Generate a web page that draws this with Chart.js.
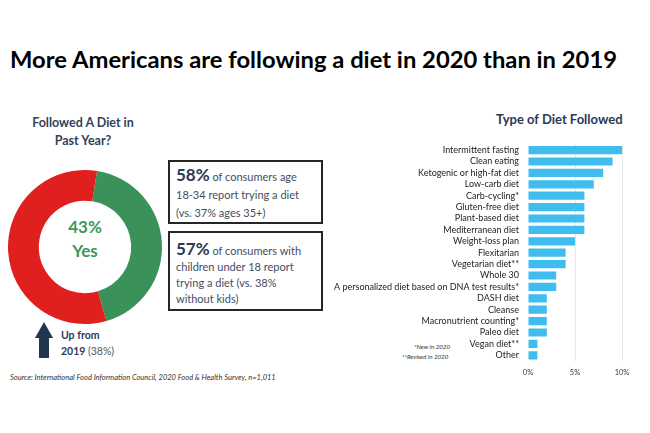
<!DOCTYPE html>
<html><head><meta charset="utf-8">
<script src="https://cdn.jsdelivr.net/npm/chart.js@4/dist/chart.umd.min.js"></script>
<style>
html,body{margin:0;padding:0;background:#fff;}
body{width:650px;height:433px;position:relative;overflow:hidden;font-family:Lato,"Open Sans",sans-serif;}
.abs{position:absolute;white-space:nowrap;}
#title{left:10px;top:46px;font-size:22px;font-weight:700;color:#000;transform-origin:0 0;}
#dTitle{left:2px;width:162px;top:114px;text-align:center;font-size:12.5px;font-weight:700;color:#33425c;line-height:18px;white-space:normal;}
#bTitle{left:496px;top:111px;font-size:13px;font-weight:700;color:#2b3a55;}
.box{position:absolute;box-sizing:border-box;left:168px;width:155px;border:2px solid #262626;padding-left:6px;color:#444d5e;font-size:11px;}
.box b{font-size:17px;line-height:1;color:#2b3a55;}
#box1{top:160px;height:64px;padding-top:4px;line-height:18px;}
#box2{top:231px;height:80px;padding-top:7px;line-height:16px;}
#pctYes{left:40px;width:90px;text-align:center;top:216px;font-size:17px;font-weight:700;color:#3a9a5b;}
#lblYes{left:40px;width:90px;text-align:center;top:240px;font-size:17px;font-weight:700;color:#3a9a5b;}
#up1{left:61px;top:329px;font-size:10.5px;font-weight:700;color:#2b3a55;}
#up2{left:61px;top:345px;font-size:10.5px;font-weight:700;color:#2b3a55;}
#up2 span{font-weight:400;color:#555;}
#src{left:10px;top:373px;font-size:7.5px;font-style:italic;color:#333;}
#n1{left:414px;top:343px;font-size:6.2px;font-style:italic;color:#333;}
#n2{left:402px;top:353px;font-size:6.2px;font-style:italic;color:#333;}
</style></head><body>
<div id="title" class="abs">More Americans are following a diet in 2020 than in 2019</div>
<div id="dTitle" class="abs">Followed A Diet in<br>Past Year?</div>
<div id="bTitle" class="abs">Type of Diet Followed</div>
<div id="box1" class="box"><b>58%</b> of consumers age<br>18-34 report trying a diet<br>(vs. 37% ages 35+)</div>
<div id="box2" class="box"><b>57%</b> of consumers with<br>children under 18 report<br>trying a diet (vs. 38%<br>without kids)</div>
<div id="pctYes" class="abs">43%</div>
<div id="lblYes" class="abs">Yes</div>
<svg class="abs" style="left:34px;top:322px" width="20" height="36"><polygon points="10,0 19,16 15,16 15,36 5,36 5,16 1,16" fill="#1f3550"/></svg>
<div id="up1" class="abs">Up from</div>
<div id="up2" class="abs">2019 <span>(38%)</span></div>
<div id="src" class="abs">Source: International Food Information Council, 2020 Food &amp; Health Survey, n=1,011</div>
<div id="n1" class="abs">*New in 2020</div>
<div id="n2" class="abs">**Revised in 2020</div>
<div class="abs" style="left:0;top:162px;width:170px;height:170px"><canvas id="donut" width="170" height="170"></canvas></div>
<div class="abs" style="left:300px;top:130px;width:350px;height:251px"><canvas id="bar" width="350" height="251"></canvas></div>
<script>
const dietLabels = ["Intermittent fasting","Clean eating","Ketogenic or high-fat diet","Low-carb diet","Carb-cycling*","Gluten-free diet","Plant-based diet","Mediterranean diet","Weight-loss plan","Flexitarian","Vegetarian diet**","Whole 30","A personalized diet based on DNA test results*","DASH diet","Cleanse","Macronutrient counting*","Paleo diet","Vegan diet**","Other"];
const dietValues = [10,9,8,7,6,6,6,6,5,4,4,3,3,2,2,2,2,1,1];
const xTicks = [0,5,10];
const donutLabels = ["Yes","No"];
const donutValues = [43,57];

// fit title width
(function(){const t=document.getElementById('title');const w=t.getBoundingClientRect().width;t.style.transform='scaleX('+(607/w)+')';})();

new Chart(document.getElementById('donut'),{
  type:'doughnut',
  data:{labels:donutLabels,datasets:[{data:donutValues,backgroundColor:['#3a915a','#e01f1f'],borderWidth:0}]},
  options:{responsive:false,animation:false,rotation:9,cutout:'60%',radius:77,
    plugins:{legend:{display:false},tooltip:{enabled:false}}}
});

new Chart(document.getElementById('bar'),{
  type:'bar',
  data:{labels:dietLabels,datasets:[{data:dietValues,backgroundColor:'#3ebdee',barPercentage:0.9,categoryPercentage:0.8}]},
  options:{indexAxis:'y',responsive:false,animation:false,
    layout:{padding:{top:5,right:28,left:0,bottom:0}},
    plugins:{legend:{display:false},tooltip:{enabled:false}},
    scales:{
      x:{min:0,max:10,afterBuildTicks:s=>{s.ticks=xTicks.map(v=>({value:v}));},
        afterFit:s=>{s.height=20;},
        border:{display:false},
        grid:{color:c=>c.tick.value===0?'rgba(0,0,0,0)':'#e6e6e6',drawTicks:false},
        ticks:{padding:7,color:'#333',font:{family:'Lato',size:7.5},callback:v=>v+'%'}},
      y:{afterFit:s=>{s.width=228;},border:{display:false},grid:{display:false,drawTicks:false},
        ticks:{padding:9,color:'#222',autoSkip:false,font:{family:'Lato',size:9}}}
    }}
});
</script>
</body></html>
